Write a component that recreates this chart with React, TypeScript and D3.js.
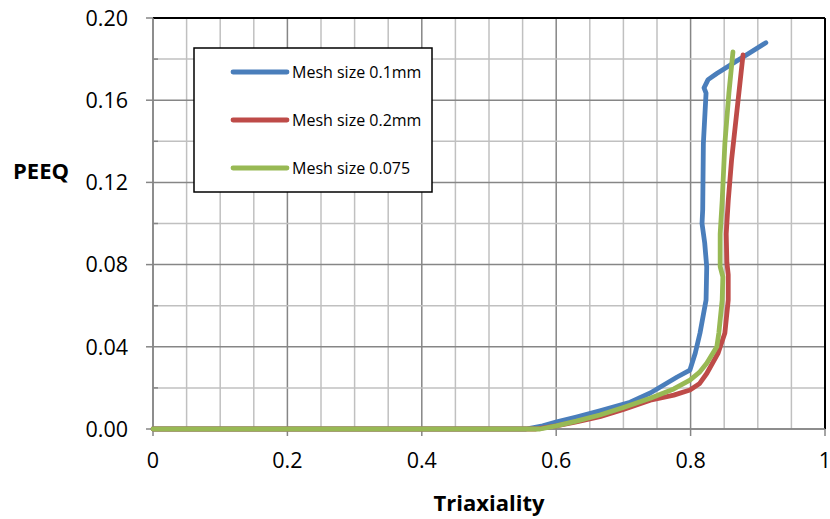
import React from 'react';
import * as d3 from 'd3';

// Triaxiality (x) vs PEEQ (y)
const blueX = [0, 0.555, 0.58, 0.601, 0.63, 0.665, 0.71, 0.74, 0.78, 0.799, 0.807, 0.814, 0.823, 0.824, 0.821, 0.817, 0.818, 0.819, 0.823, 0.82, 0.826, 0.839, 0.912];
const blueY = [0, 0, 0.0015, 0.0035, 0.0058, 0.0088, 0.013, 0.0175, 0.0253, 0.0287, 0.037, 0.0467, 0.0628, 0.0788, 0.0905, 0.1, 0.1066, 0.139, 0.1635, 0.166, 0.17, 0.173, 0.188];

const redX = [0, 0.57, 0.6, 0.63, 0.665, 0.7, 0.74, 0.775, 0.799, 0.813, 0.824, 0.841, 0.851, 0.856, 0.856, 0.854, 0.853, 0.856, 0.861, 0.869, 0.878];
const redY = [0, 0, 0.0015, 0.0035, 0.006, 0.0095, 0.014, 0.0165, 0.019, 0.022, 0.027, 0.037, 0.0467, 0.0628, 0.075, 0.081, 0.095, 0.111, 0.131, 0.155, 0.182];

const greenX = [0, 0.576, 0.6, 0.63, 0.665, 0.7, 0.74, 0.775, 0.799, 0.813, 0.824, 0.839, 0.842, 0.847, 0.848, 0.844, 0.844, 0.847, 0.851, 0.857, 0.863];
const greenY = [0, 0, 0.0015, 0.0038, 0.0068, 0.0105, 0.015, 0.0195, 0.0238, 0.0275, 0.032, 0.04, 0.0467, 0.0628, 0.074, 0.079, 0.095, 0.111, 0.139, 0.1635, 0.1835];

const seriesNames = ['Mesh size 0.1mm', 'Mesh size 0.2mm', 'Mesh size 0.075'];
const seriesColors = ['#4a7ebb', '#be4b48', '#98b954'];

const xTicks = [0, 0.2, 0.4, 0.6, 0.8, 1];
const xTickLabels = ['0', '0.2', '0.4', '0.6', '0.8', '1'];
const yTicks = [0, 0.04, 0.08, 0.12, 0.16, 0.2];
const yTickLabels = ['0.00', '0.04', '0.08', '0.12', '0.16', '0.20'];

const font = '"Open Sans", sans-serif';

export default function App() {
  const width = 830;
  const height = 519;
  const margin = { top: 18, right: 5, bottom: 90, left: 153 };

  const x = d3.scaleLinear().domain([0, 1]).range([margin.left, width - margin.right]);
  const y = d3.scaleLinear().domain([0, 0.2]).range([height - margin.bottom, margin.top]);

  const line = d3.line<[number, number]>()
    .x(d => x(d[0]))
    .y(d => y(d[1]))
    .curve(d3.curveLinear);

  const series = [
    d3.zip(blueX, blueY) as [number, number][],
    d3.zip(redX, redY) as [number, number][],
    d3.zip(greenX, greenY) as [number, number][],
  ];

  const xMinor = d3.range(0, 1.0001, 0.05);
  const yMinor = d3.range(0, 0.2001, 0.02);
  const x0 = x(0), x1 = x(1), y0 = y(0), y1 = y(0.2);

  const legX = 194, legY = 48;

  return (
    <svg width={width} height={height} style={{ position: 'absolute', left: 0, top: 0 }}>
      <rect width={width} height={height} fill="#fff" />
      {/* grid: minor every 0.05 / 0.02, major darker */}
      {xMinor.map((v, i) => (
        <line key={'xm' + i} x1={x(v)} x2={x(v)} y1={y1} y2={y0}
          stroke={i % 4 === 0 ? '#868686' : '#c0c0c0'} strokeWidth={1.5} />
      ))}
      {yMinor.map((v, i) => (
        <line key={'ym' + i} x1={x0} x2={x1} y1={y(v)} y2={y(v)}
          stroke={i % 2 === 0 ? '#868686' : '#c0c0c0'} strokeWidth={1.5} />
      ))}
      {/* border */}
      <line x1={x0} x2={x1} y1={y1} y2={y1} stroke="#000" strokeWidth={2} />
      <line x1={x1} x2={x1} y1={y1} y2={y0} stroke="#000" strokeWidth={2} />
      <line x1={x0} x2={x0} y1={y1} y2={y0} stroke="#868686" strokeWidth={1.5} />
      <line x1={x0} x2={x1} y1={y0} y2={y0} stroke="#868686" strokeWidth={1.5} />
      {/* y ticks */}
      {yTicks.map((v, i) => (
        <g key={'yt' + i}>
          <line x1={x0 - 7} x2={x0} y1={y(v)} y2={y(v)} stroke="#868686" strokeWidth={1.5} />
          <text x={x0 - 25} y={y(v)} dy="0.36em" textAnchor="end" fontFamily={font} fontSize={21.5} fill="#000">
            {yTickLabels[i]}
          </text>
        </g>
      ))}
      {yMinor.filter((_, i) => i % 2 === 1).map((v, i) => (
        <line key={'ymt' + i} x1={x0} x2={x0 + 5} y1={y(v)} y2={y(v)} stroke="#868686" strokeWidth={1.5} />
      ))}
      {/* x ticks */}
      {xTicks.map((v, i) => (
        <g key={'xt' + i}>
          <line x1={x(v)} x2={x(v)} y1={y0} y2={y0 + 7} stroke="#868686" strokeWidth={1.5} />
          <text x={x(v)} y={y0 + 39} textAnchor="middle" fontFamily={font} fontSize={21.5} fill="#000">
            {xTickLabels[i]}
          </text>
        </g>
      ))}
      {/* series */}
      {series.map((s, i) => (
        <path key={'s' + i} d={line(s) || ''} fill="none" stroke={seriesColors[i]}
          strokeWidth={4.8} strokeLinecap="round" strokeLinejoin="round" />
      ))}
      {/* legend */}
      <rect x={legX} y={legY} width={238} height={144} fill="#fff" stroke="#000" strokeWidth={1.5} />
      {seriesNames.map((n, i) => (
        <g key={'lg' + i}>
          <line x1={233} x2={287} y1={72 + i * 48} y2={72 + i * 48} stroke={seriesColors[i]}
            strokeWidth={4.8} strokeLinecap="round" />
          <text x={292} y={72 + i * 48} dy="0.36em" fontFamily={font} fontSize={16} fill="#000">{n}</text>
        </g>
      ))}
      {/* axis titles */}
      <text x={41} y={171} dy="0.36em" textAnchor="middle" fontFamily={font} fontSize={22} fontWeight="bold">PEEQ</text>
      <text x={489} y={503} dy="0.36em" textAnchor="middle" fontFamily={font} fontSize={22} fontWeight="bold">Triaxiality</text>
    </svg>
  );
}
